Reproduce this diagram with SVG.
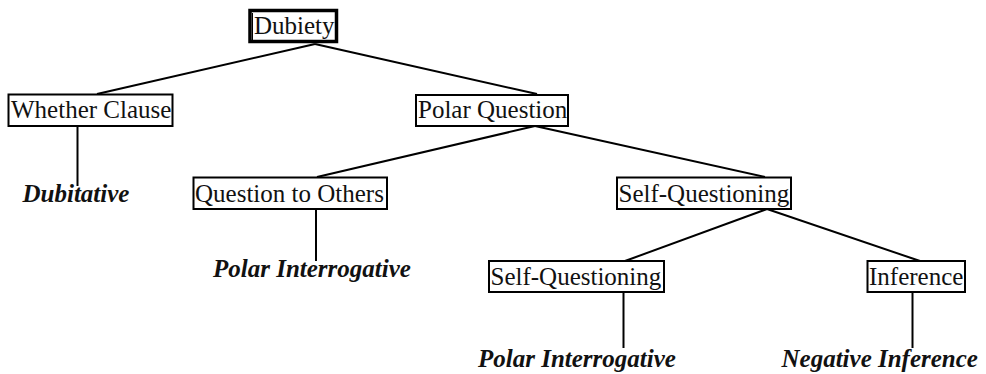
<svg xmlns="http://www.w3.org/2000/svg" width="986" height="374" viewBox="0 0 986 374">
<style>
.box{fill:#fff;stroke:#000;stroke-width:2}
.root{fill:#fff;stroke:#000;stroke-width:3.5}
.t{font-family:"Liberation Serif","Times New Roman",serif;font-size:25px;fill:#111}
.b{font-family:"Liberation Serif","Times New Roman",serif;font-size:25px;font-weight:bold;font-style:italic;fill:#111}
.c{stroke:#000;stroke-width:2;fill:none}
</style>
<rect width="986" height="374" fill="#fff"/>
<g id="connectors">
<line class="c" x1="315" y1="44" x2="97" y2="94"/>
<line class="c" x1="315" y1="44" x2="537" y2="94"/>
<line class="c" x1="535" y1="126" x2="317" y2="177"/>
<line class="c" x1="535" y1="126" x2="765" y2="177"/>
<line class="c" x1="767" y1="209" x2="625" y2="261"/>
<line class="c" x1="767" y1="209" x2="920" y2="261"/>
<line class="c" x1="77.5" y1="126" x2="77.5" y2="186"/>
<line class="c" x1="316" y1="209" x2="316" y2="261"/>
<line class="c" x1="623.5" y1="292" x2="623.5" y2="348"/>
<line class="c" x1="912.5" y1="292" x2="912.5" y2="348"/>
</g>
<g id="dubiety">
<rect class="root" x="250" y="10.5" width="86.5" height="31"/>
<line x1="252.5" y1="13" x2="252.5" y2="40" stroke="#000" stroke-width="1"/>
<text class="t" x="254" y="34">Dubiety</text>
</g>
<g id="whether-clause">
<rect class="box" x="8.5" y="94.5" width="164" height="31.5"/>
<text class="t" x="11" y="118">Whether Clause</text>
</g>
<g id="dubitative">
<text class="b" x="22.5" y="202">Dubitative</text>
</g>
<g id="polar-question">
<rect class="box" x="416" y="95" width="152" height="31"/>
<text class="t" x="418" y="118">Polar Question</text>
</g>
<g id="question-to-others">
<rect class="box" x="193.5" y="177.5" width="193.5" height="31.5"/>
<text class="t" x="195" y="202">Question to Others</text>
</g>
<g id="polar-interrogative-1">
<text class="b" x="213" y="277">Polar Interrogative</text>
</g>
<g id="self-questioning-1">
<rect class="box" x="617" y="177.5" width="174" height="31.5"/>
<text class="t" x="618.5" y="202">Self-Questioning</text>
</g>
<g id="self-questioning-2">
<rect class="box" x="489" y="261" width="175" height="31"/>
<text class="t" x="490.5" y="285">Self-Questioning</text>
</g>
<g id="polar-interrogative-2">
<text class="b" x="478" y="367">Polar Interrogative</text>
</g>
<g id="inference">
<rect class="box" x="867.5" y="261" width="97.5" height="31"/>
<text class="t" x="869" y="285">Inference</text>
</g>
<g id="negative-inference">
<text class="b" x="781.5" y="367">Negative Inference</text>
</g>
</svg>
